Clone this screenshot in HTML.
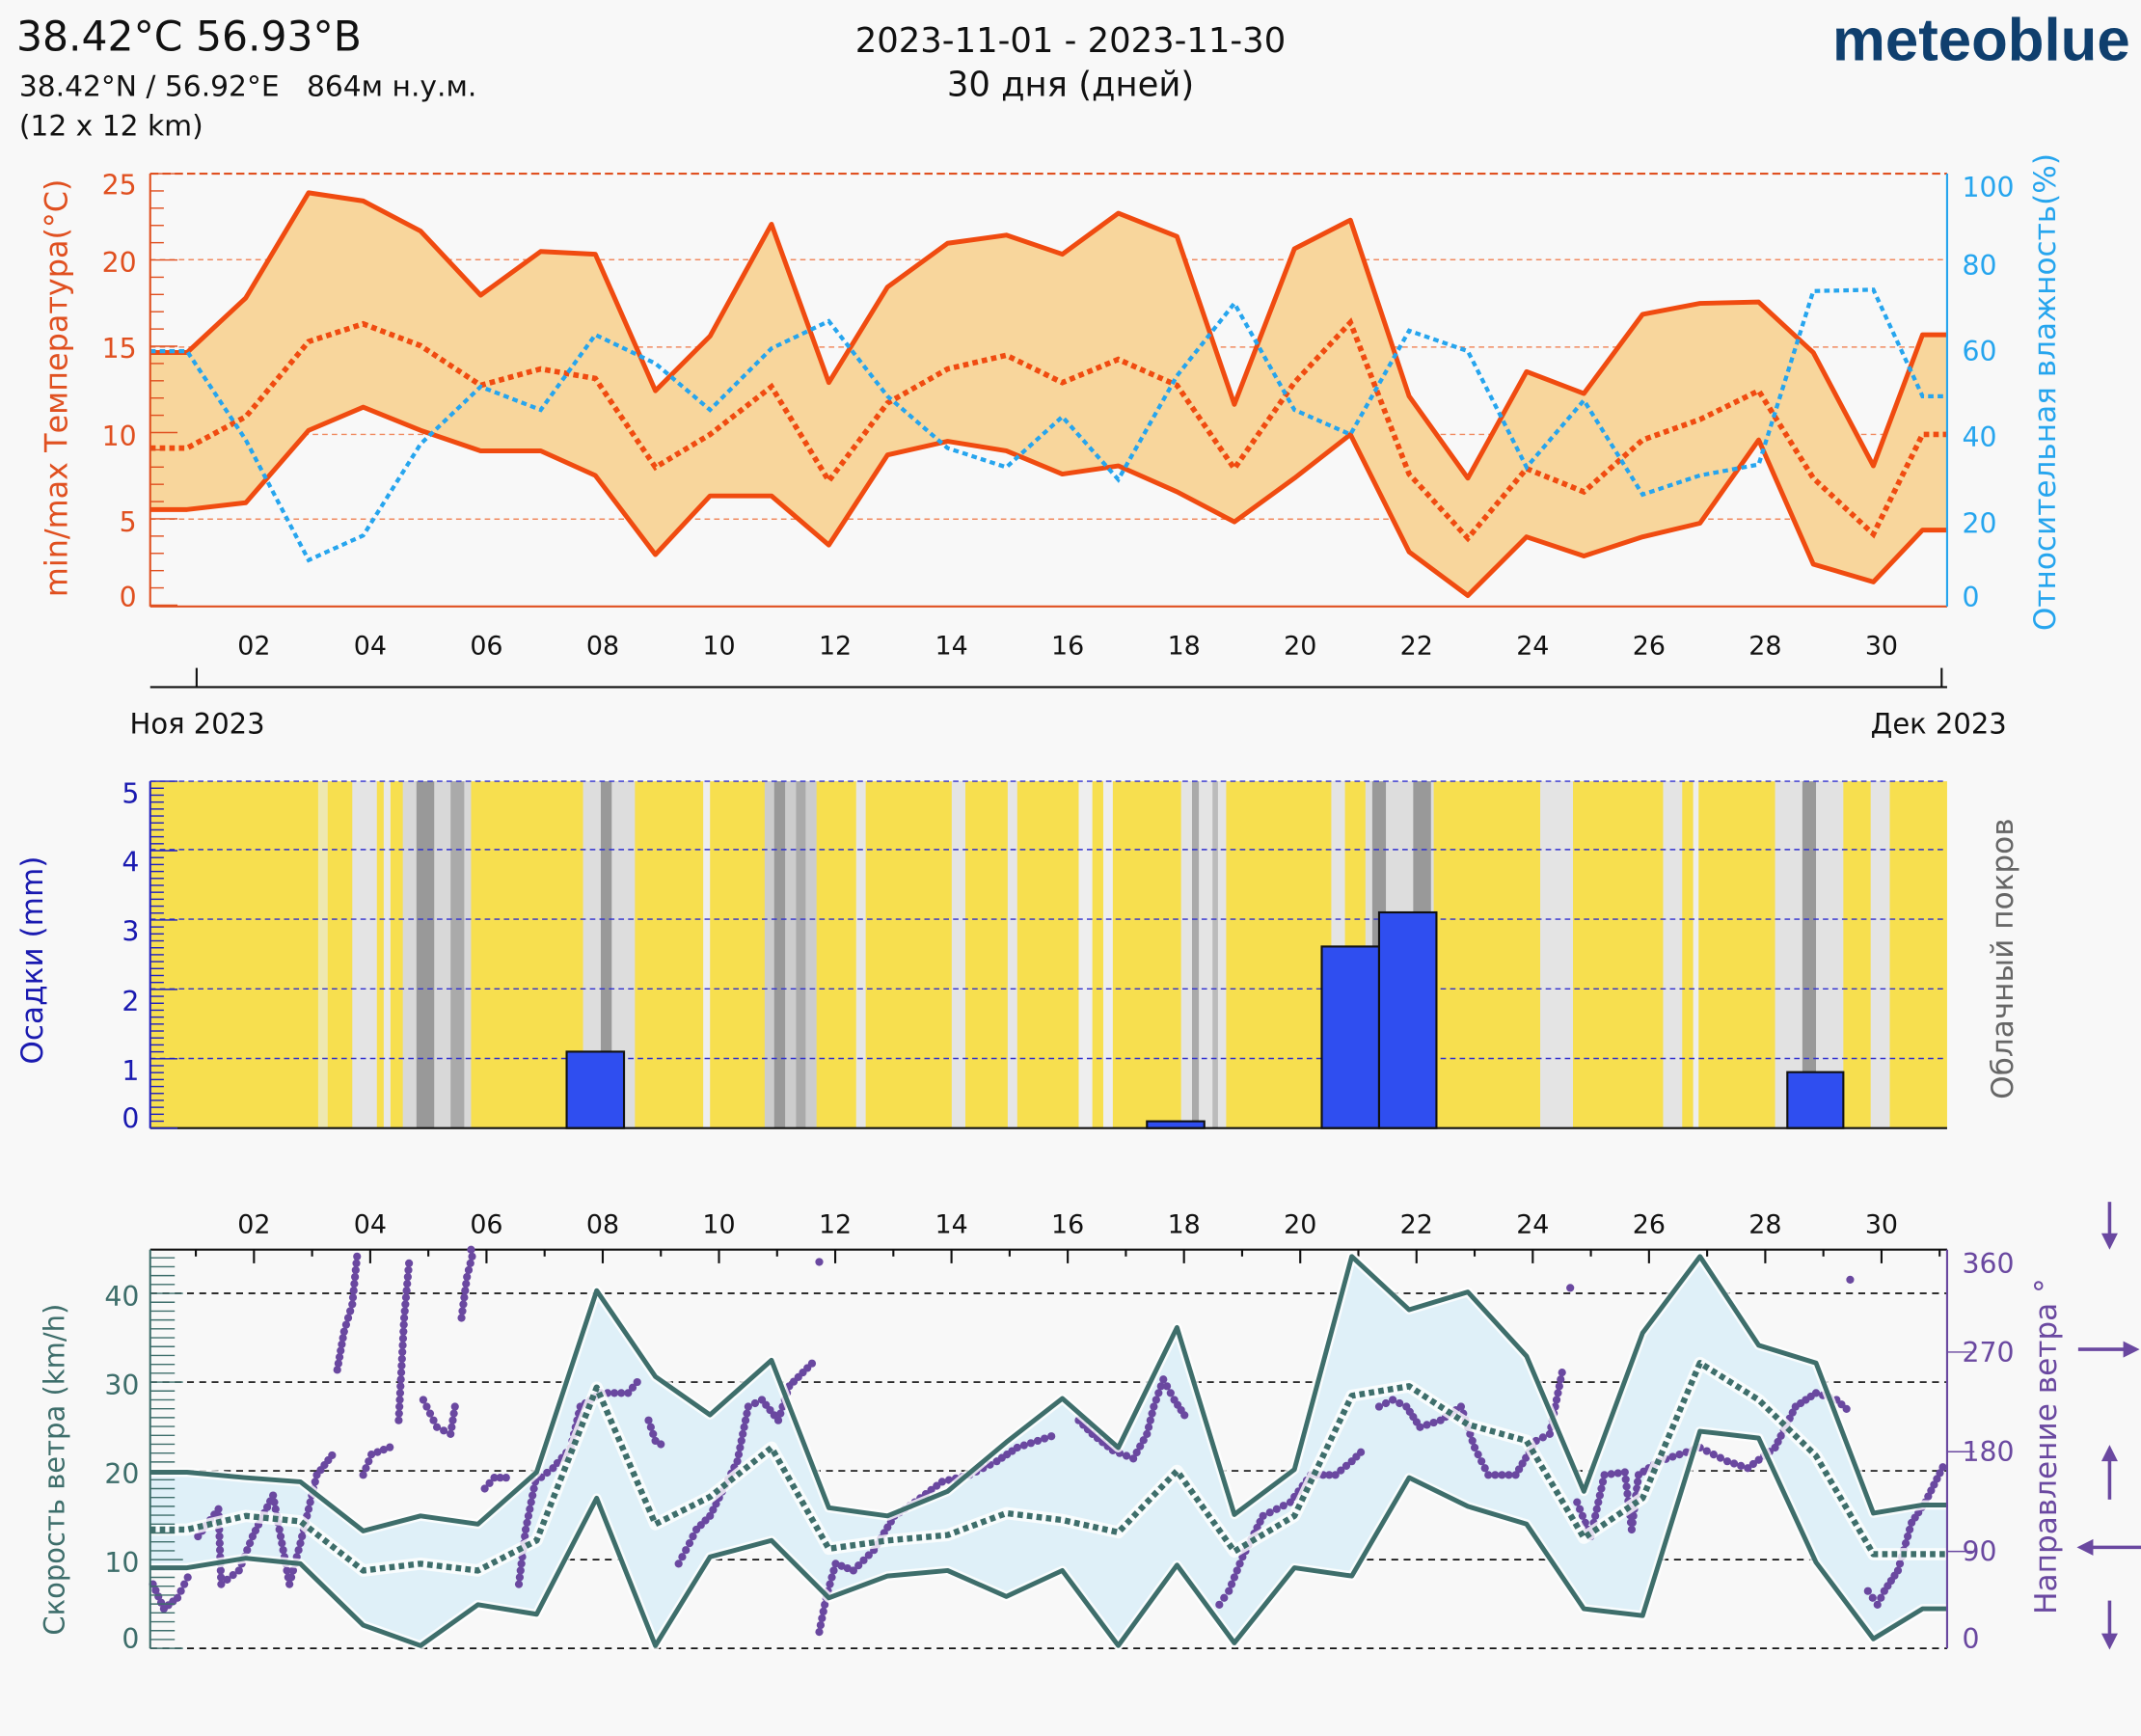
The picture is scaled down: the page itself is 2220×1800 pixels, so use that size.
<!DOCTYPE html>
<html><head><meta charset="utf-8"><style>
html,body{margin:0;padding:0;background:#f8f8f8;}
svg{display:block;}
text{font-family:"DejaVu Sans","Liberation Sans",sans-serif;}
</style></head><body>
<svg id="s" width="2220" height="1800" viewBox="0 0 1568 1271" xmlns="http://www.w3.org/2000/svg">
<rect width="1568" height="1271" fill="#f8f8f8"/>
<!-- header -->
<text x="12" y="37" font-size="30" fill="#111">38.42°C 56.93°B</text>
<text x="14" y="70" font-size="21" fill="#111" xml:space="preserve">38.42°N / 56.92°E   864м н.у.м.</text>
<text x="14" y="99" font-size="21" fill="#111">(12 x 12 km)</text>
<text x="784" y="38" font-size="25" fill="#111" text-anchor="middle">2023-11-01 - 2023-11-30</text>
<text x="784" y="70" font-size="25" fill="#111" text-anchor="middle">30 дня (дней)</text>
<text x="1560" y="44" font-size="44" font-weight="bold" fill="#0f3f6e" text-anchor="end" textLength="218" lengthAdjust="spacingAndGlyphs" style="font-family:'Liberation Sans',sans-serif">meteoblue</text>

<!-- TOP CHART -->
<g id="top">
<g stroke="#f08a60" stroke-width="1" stroke-dasharray="4 3">
<line x1="110" y1="190" x2="1426" y2="190"/><line x1="110" y1="254" x2="1426" y2="254"/>
<line x1="110" y1="318" x2="1426" y2="318"/><line x1="110" y1="380" x2="1426" y2="380"/>
</g>
<polygon fill="#f8d69c" points="110,258 137,258 180,218 226,141 266,147 308,169 352,216 396,184 436,186 480,286 520,246 565,164 607,280 650,210 694,178 737,172 778,186 819,156 862,173 904,296 948,182 989,161 1032,290 1075,350 1118,272 1160,288 1203,230 1245,222 1288,221 1328,258 1372,341 1408,245 1426,245 1426,388 1408,388 1372,426 1328,413 1288,322 1245,383 1203,393 1160,407 1118,393 1075,436 1032,404 989,318 948,350 904,382 862,360 819,341 778,347 737,330 694,323 650,333 607,399 565,363 520,363 480,406 436,348 396,330 352,330 308,315 266,298 226,315 180,368 137,373 110,373"/>
<polyline fill="none" stroke="#f04b10" stroke-width="3.5" stroke-linejoin="round" points="110,258 137,258 180,218 226,141 266,147 308,169 352,216 396,184 436,186 480,286 520,246 565,164 607,280 650,210 694,178 737,172 778,186 819,156 862,173 904,296 948,182 989,161 1032,290 1075,350 1118,272 1160,288 1203,230 1245,222 1288,221 1328,258 1372,341 1408,245 1426,245"/>
<polyline fill="none" stroke="#f04b10" stroke-width="3.5" stroke-linejoin="round" points="110,373 137,373 180,368 226,315 266,298 308,315 352,330 396,330 436,348 480,406 520,363 565,363 607,399 650,333 694,323 737,330 778,347 819,341 862,360 904,382 948,350 989,318 1032,404 1075,436 1118,393 1160,407 1203,393 1245,383 1288,322 1328,413 1372,426 1408,388 1426,388"/>
<polyline fill="none" stroke="#f04b10" stroke-width="4" stroke-dasharray="4 3" points="110,328 137,328 180,305 226,250 266,237 308,253 352,282 396,270 436,277 480,342 520,318 565,283 607,352 650,295 694,270 737,260 778,280 819,263 862,282 904,343 948,280 989,236 1032,347 1075,394 1118,343 1160,360 1203,322 1245,307 1288,286 1328,350 1372,391 1408,318 1426,318"/>
<polyline fill="none" stroke="#26a5ee" stroke-width="3" stroke-dasharray="4 3" points="110,257 137,257 180,322 226,410 266,392 308,325 352,283 396,300 436,245 480,266 520,300 565,255 607,235 650,290 694,328 737,342 778,305 819,351 862,275 904,222 948,300 989,318 1032,242 1075,257 1118,342 1160,293 1203,362 1245,348 1288,340 1328,213 1372,212 1408,290 1426,290"/>
<line x1="110" y1="127" x2="1426" y2="127" stroke="#e05020" stroke-width="1.5" stroke-dasharray="6 3"/>
<line x1="110" y1="444" x2="1426" y2="444" stroke="#e05020" stroke-width="1.5"/>
<line x1="110" y1="127" x2="110" y2="444" stroke="#e05020" stroke-width="1.5"/>
<line x1="1426" y1="127" x2="1426" y2="444" stroke="#26a5ee" stroke-width="1.5"/>
<g id="tt" stroke="#e05020" stroke-width="1"></g>
<g fill="#e05020" font-size="20" text-anchor="end">
<text x="100" y="142">25</text><text x="100" y="199">20</text><text x="100" y="262">15</text>
<text x="100" y="326">10</text><text x="100" y="389">5</text><text x="100" y="444">0</text></g>
<g fill="#26a5ee" font-size="20">
<text x="1437" y="144">100</text><text x="1437" y="201">80</text><text x="1437" y="264">60</text>
<text x="1437" y="327">40</text><text x="1437" y="390">20</text><text x="1437" y="444">0</text></g>
<text transform="translate(49,284) rotate(-90)" font-size="22.5" fill="#e05020" text-anchor="middle">min/max Температура(°C)</text>
<text transform="translate(1505,287) rotate(-90)" font-size="22" fill="#26a5ee" text-anchor="middle">Относительная влажность(%)</text>
<g id="dl1" font-size="19" fill="#111" text-anchor="middle"></g>
<line x1="110" y1="503" x2="1426" y2="503" stroke="#111" stroke-width="1.5"/>
<line x1="144" y1="489" x2="144" y2="503" stroke="#111" stroke-width="1.5"/>
<line x1="1422" y1="489" x2="1422" y2="503" stroke="#111" stroke-width="1.5"/>
<text x="95" y="537" font-size="20.5" fill="#111">Ноя 2023</text>
<text x="1370" y="537" font-size="20.5" fill="#111">Дек 2023</text>
</g>

<!-- MIDDLE -->
<rect x="110" y="572" width="1316" height="254" fill="#f7df4f"/>
<g id="stripes"></g>
<g stroke="#3030d0" stroke-width="1" stroke-dasharray="4 3">
<line x1="110" y1="572" x2="1426" y2="572"/><line x1="110" y1="622" x2="1426" y2="622"/>
<line x1="110" y1="673" x2="1426" y2="673"/><line x1="110" y1="724" x2="1426" y2="724"/>
<line x1="110" y1="775" x2="1426" y2="775"/></g>
<g fill="#2f4ef0" stroke="#111" stroke-width="1.5">
<rect x="415" y="770" width="42" height="56"/>
<rect x="840" y="821" width="42" height="5"/>
<rect x="968" y="693" width="42" height="133"/>
<rect x="1010" y="668" width="42" height="158"/>
<rect x="1309" y="785" width="41" height="41"/></g>
<line x1="110" y1="826" x2="1426" y2="826" stroke="#111" stroke-width="1.5"/>
<line x1="110" y1="572" x2="110" y2="826" stroke="#2020c0" stroke-width="1.5"/>
<g id="pt" stroke="#2020c0" stroke-width="1"></g>
<g fill="#1a1ab0" font-size="20" text-anchor="end">
<text x="102" y="588">5</text><text x="102" y="638">4</text><text x="102" y="689">3</text>
<text x="102" y="740">2</text><text x="102" y="791">1</text><text x="102" y="826">0</text></g>
<text transform="translate(31,703) rotate(-90)" font-size="22" fill="#1a1ab0" text-anchor="middle">Осадки (mm)</text>
<text transform="translate(1474,702) rotate(-90)" font-size="22" fill="#666" text-anchor="middle">Облачный покров</text>

<!-- BOTTOM -->
<g id="dl2" font-size="19" fill="#111" text-anchor="middle"></g>
<line x1="110" y1="915" x2="1426" y2="915" stroke="#111" stroke-width="1.5"/>
<g id="bt" stroke="#111" stroke-width="1.5"></g>
<g stroke="#111" stroke-width="1.2" stroke-dasharray="5 4">
<line x1="110" y1="947" x2="1426" y2="947"/><line x1="110" y1="1012" x2="1426" y2="1012"/>
<line x1="110" y1="1077" x2="1426" y2="1077"/><line x1="110" y1="1142" x2="1426" y2="1142"/>
<line x1="110" y1="1207" x2="1426" y2="1207"/></g>
<polygon fill="#dff0f8" points="110,1078 137,1078 180,1082 220,1085 266,1121 308,1110 350,1116 393,1078 437,945 480,1008 520,1036 565,996 607,1104 650,1110 694,1092 737,1056 778,1024 819,1060 862,972 904,1109 948,1076 990,920 1032,959 1075,946 1118,993 1160,1092 1203,976 1245,920 1288,985 1330,998 1372,1108 1408,1102 1426,1102 1426,1178 1408,1178 1372,1200 1330,1144 1288,1053 1245,1048 1203,1183 1160,1178 1118,1116 1075,1103 1032,1082 990,1154 948,1148 904,1203 862,1146 819,1205 778,1150 737,1169 694,1150 650,1154 607,1170 565,1128 520,1140 480,1205 437,1097 393,1182 350,1175 308,1205 266,1190 220,1145 180,1141 137,1148 110,1148"/>
<g id="dots" fill="#6a48a0"></g>
<g fill="none" stroke-linejoin="round">
<g stroke="#fff" stroke-width="7" opacity="0.8">
<polyline points="110,1078 137,1078 180,1082 220,1085 266,1121 308,1110 350,1116 393,1078 437,945 480,1008 520,1036 565,996 607,1104 650,1110 694,1092 737,1056 778,1024 819,1060 862,972 904,1109 948,1076 990,920 1032,959 1075,946 1118,993 1160,1092 1203,976 1245,920 1288,985 1330,998 1372,1108 1408,1102 1426,1102"/>
<polyline points="110,1148 137,1148 180,1141 220,1145 266,1190 308,1205 350,1175 393,1182 437,1097 480,1205 520,1140 565,1128 607,1170 650,1154 694,1150 737,1169 778,1150 819,1205 862,1146 904,1203 948,1148 990,1154 1032,1082 1075,1103 1118,1116 1160,1178 1203,1183 1245,1048 1288,1053 1330,1144 1372,1200 1408,1178 1426,1178"/>
<polyline stroke-width="9" points="110,1120 137,1120 180,1110 220,1114 266,1150 308,1145 350,1150 393,1128 437,1016 480,1116 520,1096 565,1060 607,1134 650,1128 694,1124 737,1108 778,1113 819,1122 862,1077 904,1136 948,1110 990,1022 1032,1015 1075,1043 1118,1055 1160,1126 1203,1097 1245,998 1288,1025 1330,1066 1372,1138 1408,1138 1426,1138"/>
</g>
<g stroke="#3e6e6b" stroke-width="3.5">
<polyline points="110,1078 137,1078 180,1082 220,1085 266,1121 308,1110 350,1116 393,1078 437,945 480,1008 520,1036 565,996 607,1104 650,1110 694,1092 737,1056 778,1024 819,1060 862,972 904,1109 948,1076 990,920 1032,959 1075,946 1118,993 1160,1092 1203,976 1245,920 1288,985 1330,998 1372,1108 1408,1102 1426,1102"/>
<polyline points="110,1148 137,1148 180,1141 220,1145 266,1190 308,1205 350,1175 393,1182 437,1097 480,1205 520,1140 565,1128 607,1170 650,1154 694,1150 737,1169 778,1150 819,1205 862,1146 904,1203 948,1148 990,1154 1032,1082 1075,1103 1118,1116 1160,1178 1203,1183 1245,1048 1288,1053 1330,1144 1372,1200 1408,1178 1426,1178"/>
<polyline stroke-width="4.5" stroke-dasharray="4 3" points="110,1120 137,1120 180,1110 220,1114 266,1150 308,1145 350,1150 393,1128 437,1016 480,1116 520,1096 565,1060 607,1134 650,1128 694,1124 737,1108 778,1113 819,1122 862,1077 904,1136 948,1110 990,1022 1032,1015 1075,1043 1118,1055 1160,1126 1203,1097 1245,998 1288,1025 1330,1066 1372,1138 1408,1138 1426,1138"/>
</g></g>
<line x1="110" y1="915" x2="110" y2="1207" stroke="#3e6e6b" stroke-width="1.5"/>
<line x1="1426" y1="915" x2="1426" y2="1207" stroke="#6a48a0" stroke-width="1.5"/>
<g id="wt" stroke="#3e6e6b" stroke-width="1"></g>
<g stroke="#6a48a0" stroke-width="1">
<line x1="1426" y1="990" x2="1446" y2="990"/><line x1="1426" y1="1063" x2="1446" y2="1063"/>
<line x1="1426" y1="1136" x2="1446" y2="1136"/></g>
<g fill="#3e6e6b" font-size="20" text-anchor="end">
<text x="102" y="956">40</text><text x="102" y="1021">30</text><text x="102" y="1086">20</text>
<text x="102" y="1151">10</text><text x="102" y="1207">0</text></g>
<g fill="#6a48a0" font-size="20">
<text x="1437" y="932">360</text><text x="1437" y="997">270</text><text x="1437" y="1070">180</text>
<text x="1437" y="1143">90</text><text x="1437" y="1207">0</text></g>
<text transform="translate(47,1076) rotate(-90)" font-size="20.5" fill="#3e6e6b" text-anchor="middle">Скорость ветра (km/h)</text>
<text transform="translate(1506,1059) rotate(-90)" font-size="22" fill="#6a48a0" text-anchor="middle">Направление ветра °</text>
<g stroke="#6a48a0" stroke-width="2.5" fill="#6a48a0">
<line x1="1545" y1="880" x2="1545" y2="910"/><polygon points="1539,903 1551,903 1545,915" stroke="none"/>
<line x1="1522" y1="988" x2="1560" y2="988"/><polygon points="1555,982 1555,994 1567,988" stroke="none"/>
<line x1="1545" y1="1068" x2="1545" y2="1098"/><polygon points="1539,1070 1551,1070 1545,1058" stroke="none"/>
<line x1="1530" y1="1133" x2="1568" y2="1133"/><polygon points="1533,1127 1533,1139 1521,1133" stroke="none"/>
<line x1="1545" y1="1172" x2="1545" y2="1200"/><polygon points="1539,1196 1551,1196 1545,1208" stroke="none"/>
</g>
</svg>
<script>
var NS="http://www.w3.org/2000/svg";
function el(p,t,a,txt){var e=document.createElementNS(NS,t);for(var k in a)e.setAttribute(k,a[k]);if(txt)e.textContent=txt;document.getElementById(p).appendChild(e);}
function xd(d){return 186+(d-2)*42.57;}
for(var d=2;d<=30;d+=2){el("dl1","text",{x:xd(d),y:479},(d<10?"0":"")+d);el("dl2","text",{x:xd(d),y:903},(d<10?"0":"")+d);}
for(var d=1;d<=31;d++){var x=xd(d);if(x>1426)break;el("bt","line",{x1:x,y1:915,x2:x,y2:d%2?920:925});}
for(var v=0;v<=25;v++){var y=443-v*12.64;el("tt","line",{x1:110,y1:y,x2:v%5?120:130,y2:y});}
for(var v=0;v<=50;v++){var y=826-v*5.08;el("pt","line",{x1:110,y1:y,x2:v%10?120:130,y2:y});}
for(var v=0;v<=45;v++){var y=1207-v*6.5;if(y<915)break;el("wt","line",{x1:110,y1:y,x2:v%10?128:134,y2:y});}
var st=[[233,240,"#eee8b0"],[258,276,"#e4e4e4"],[281,286,"#e8e8e8"],[295,345,"#d8d8d8"],[305,318,"#999"],[330,340,"#aaa"],[427,465,"#ddd"],[440,448,"#999"],[515,520,"#eee"],[560,598,"#ccc"],[567,575,"#999"],[583,590,"#aaa"],[627,634,"#e6e6e6"],[697,707,"#e4e4e4"],[738,745,"#e6e6e6"],[790,800,"#eee"],[808,815,"#eee"],[865,898,"#e4e4e4"],[873,878,"#aaa"],[888,892,"#bbb"],[975,985,"#e4e4e4"],[1000,1050,"#ddd"],[1005,1015,"#999"],[1035,1048,"#999"],[1128,1152,"#e4e4e4"],[1218,1232,"#e4e4e4"],[1240,1244,"#eee"],[1300,1350,"#e2e2e2"],[1320,1330,"#999"],[1370,1384,"#e4e4e4"]];
st.forEach(function(s){el("stripes","rect",{x:s[0],y:572,width:s[1]-s[0],height:254,fill:s[2]});});
var segs=[
[[112,1160],[120,1178],[130,1170],[140,1150]],[[145,1125],[160,1105],[162,1160],[175,1150],[185,1125],[200,1095],[212,1160],[220,1130],[232,1080],[246,1062]],
[[247,1003],[252,975],[258,955],[262,915]],[[266,1080],[272,1065],[290,1058]],[[292,1040],[296,965],[300,920]],[[310,1025],[320,1045],[330,1050],[334,1025]],[[338,965],[342,935],[347,915]],
[[355,1090],[362,1082],[375,1082]],[[380,1160],[385,1120],[392,1085],[405,1075],[418,1060],[425,1030],[440,1020],[460,1020],[470,1008]],[[475,1040],[480,1055],[488,1060]],
[[497,1145],[505,1130],[510,1120],[520,1110],[540,1070],[548,1030],[558,1025],[570,1040],[578,1015],[598,995]],[[600,1195],[605,1170],[612,1145],[625,1150],[640,1135],[655,1110],[670,1100],[690,1085],[710,1080],[730,1070],[745,1060],[760,1055],[775,1050]],
[[790,1040],[800,1050],[815,1062],[830,1068],[840,1050],[845,1030],[852,1010],[860,1025],[870,1040]],[[893,1175],[900,1165],[910,1140],[925,1110],[945,1100],[960,1080],[978,1080],[990,1070],[1000,1060]],
[[1010,1030],[1020,1025],[1030,1030],[1040,1045],[1055,1040],[1070,1030],[1080,1060],[1090,1080],[1110,1080],[1125,1055],[1135,1050],[1145,1000]],[[1155,1100],[1165,1125],[1175,1080],[1190,1078],[1195,1120],[1200,1080],[1215,1070],[1230,1065],[1245,1060],[1265,1070],[1280,1075],[1300,1060],[1315,1030],[1330,1020],[1345,1025],[1356,1035]],
[[1368,1165],[1375,1175],[1380,1165],[1390,1150],[1400,1115],[1410,1100],[1425,1070]]];
segs.forEach(function(p){for(var i=0;i<p.length-1;i++){var a=p[i],b=p[i+1],L=Math.hypot(b[0]-a[0],b[1]-a[1]),n=Math.max(1,Math.round(L/5));for(var j=0;j<n;j++){var t=j/n;el("dots","circle",{cx:a[0]+(b[0]-a[0])*t,cy:a[1]+(b[1]-a[1])*t,r:2.9});}}});
[[1150,943],[1355,937],[600,924],[345,915]].forEach(function(c){el("dots","circle",{cx:c[0],cy:c[1],r:2.9});});
</script>
</body></html>
